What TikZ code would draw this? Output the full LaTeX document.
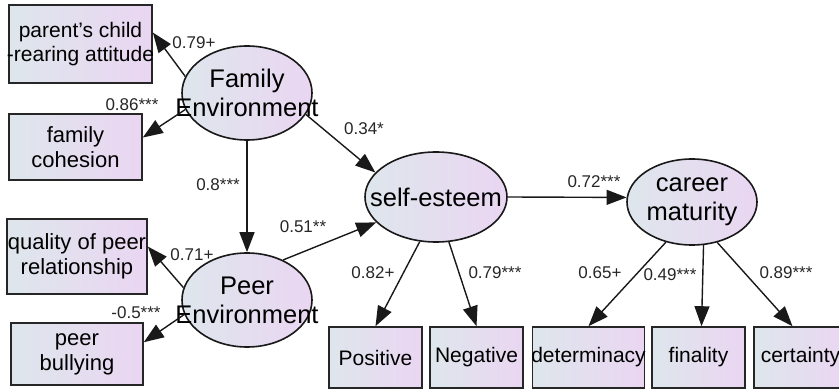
\documentclass[tikz,border=0pt]{standalone}
\usepackage{fontspec}
\setmainfont{Liberation Sans}
\usetikzlibrary{shapes.geometric,arrows.meta}
\definecolor{fillleft}{RGB}{222,230,236}
\definecolor{fillright}{RGB}{234,214,242}
\tikzset{
  obs/.style={rectangle, draw=black!85, line width=1.6pt, inner sep=0pt,
    left color=fillleft, right color=fillright, align=center,
    font=\fontsize{21}{24}\selectfont},
  lat/.style={ellipse, draw=black!90, line width=1.6pt, inner sep=-30pt,
    left color=fillleft, right color=fillright, align=center,
    font=\fontsize{25.5}{29}\selectfont},
  coef/.style={inner sep=0pt, text=black!85, font=\fontsize{17}{19}\selectfont},
  effect/.style={-{Triangle[length=20pt,width=15pt]}, line width=1.4pt, draw=black!90}
}
\begin{document}
\begin{tikzpicture}[x=1pt,y=-1pt]
      \useasboundingbox (0,0) rectangle (839,390);
      \draw
        (247,93) node[lat, minimum width=130pt, minimum height=94pt] (fam){Family\\Environment}
        (247,300) node[lat, minimum width=130pt, minimum height=94pt] (peer){Peer\\Environment}
        (436,197) node[lat, minimum width=142pt, minimum height=90pt] (se){self-esteem}
        (692,202) node[lat, minimum width=130pt, minimum height=86pt] (cm){career\\maturity}
        (80.5,44) node[obs, inner xsep=-2pt, minimum width=141pt, minimum height=78pt] (par){parent’s child\\-rearing attitude}
        (75.5,147) node[obs, font=\fontsize{22}{25}\selectfont, minimum width=133pt, minimum height=66pt] (coh){family\\cohesion}
        (77,256.5) node[obs, font=\fontsize{22}{25}\selectfont, minimum width=140pt, minimum height=75pt] (qual){quality of peer\\relationship}
        (77,354) node[obs, font=\fontsize{22}{25}\selectfont, minimum width=132pt, minimum height=62pt] (bul){peer\\bullying}
        (375.5,357.5) node[obs, minimum width=93pt, minimum height=61pt] (pos){Positive}
        (476.5,357.5) node[obs, minimum width=93pt, minimum height=61pt] (neg){Negative}
        (588.5,357.5) node[obs, inner xsep=-1pt, minimum width=111pt, minimum height=61pt] (det){determinacy}
        (698.5,357.5) node[obs, minimum width=93pt, minimum height=61pt] (fin){finality}
        (800.5,357.5) node[obs, minimum width=93pt, minimum height=61pt] (cer){certainty};
      \draw
        (194,43) node[coef] (cpar){0.79+}
        (132,105) node[coef] (ccoh){0.86***}
        (218,185) node[coef] (cpeer){0.8***}
        (364,129) node[coef] (cfse){0.34*}
        (303,227) node[coef] (cpse){0.51**}
        (192,255) node[coef] (cqual){0.71+}
        (136,313) node[coef] (cbul){-0.5***}
        (594,182) node[coef] (ccm){0.72***}
        (373,273) node[coef] (cpos){0.82+}
        (495,273) node[coef] (cneg){0.79***}
        (600,273) node[coef] (cdet){0.65+}
        (670,275) node[coef] (cfin){0.49***}
        (786,273) node[coef] (ccer){0.89***};
      \begin{scope}[effect]
        \draw (fam.165) to (par.9);
        \draw (fam.195) to (coh.8);
        \draw (fam.south) to (peer.north);
        \draw (fam.340) to (se.158);
        \draw (peer.169) to (qual.8);
        \draw (peer.193) to (bul.10);
        \draw (peer.48) to (se.203);
        \draw (se.east) to (cm.176);
        \draw (se.250) to (pos.north);
        \draw (se.286) to (neg.north);
        \draw (cm.237) to (det.north);
        \draw (cm.285) to ([xshift=3pt]fin.north);
        \draw (cm.302) to ([xshift=-8pt]cer.north);
      \end{scope}
    \end{tikzpicture}
\end{document}
